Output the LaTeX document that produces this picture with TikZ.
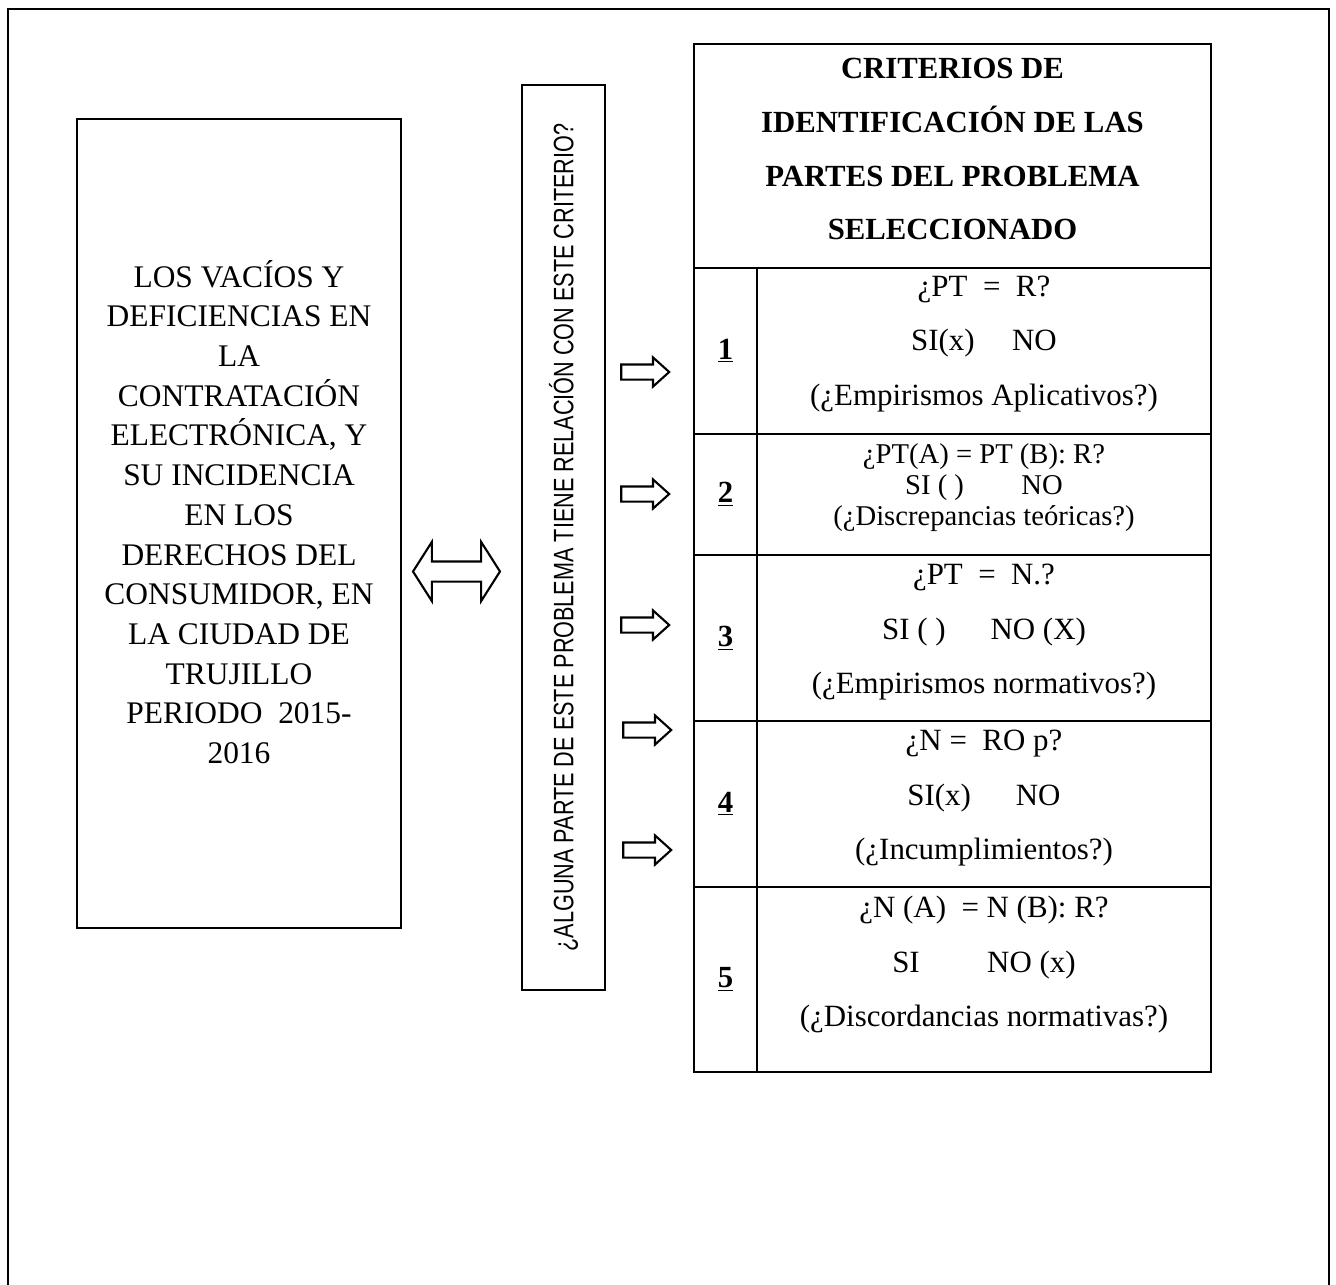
\documentclass[tikz,border=0pt]{standalone}
\usepackage{fontspec}
\setmainfont{Liberation Serif}
\newfontfamily\narrowsans[FakeStretch=0.77]{Liberation Sans}
\usetikzlibrary{positioning, shapes.arrows}

\begin{document}
\begin{tikzpicture}[x=0.02cm,y=-0.02cm,line width=1.2pt,
  box/.style={draw,rectangle,outer sep=0pt,inner sep=0pt},
  num cell/.style={box,minimum width=1.26cm,font=\fontsize{17.5}{21}\selectfont\bfseries},
  crit cell/.style={box,minimum width=9.08cm},
  crit text/.style={align=center,font=\fontsize{17.6}{31}\selectfont},
  head text/.style={align=center,font=\fontsize{17.5}{30.7}\selectfont\bfseries},
  block arrow/.style={single arrow,draw,line width=1.2pt,inner xsep=0pt,inner ysep=0.13cm,
    single arrow head extend=0.14cm,single arrow tip angle=84,minimum height=0.96cm}]
  \useasboundingbox (0,0) rectangle (1336,1285);
  % outer frame, its bottom edge is off the page
  \draw[line width=1.6pt] (8,1300) -- (8,9) -- (1329,9) -- (1329,1300);

  % problem
  \node[box,minimum width=6.48cm,minimum height=16.18cm] (prob) at (239,523.5) {};
  \node[align=center,font=\fontsize{17.9}{22.6}\selectfont] (probtext) at ([yshift=0.23cm]prob.center)
    {LOS VACÍOS Y\\DEFICIENCIAS EN\\LA\\CONTRATACIÓN\\ELECTRÓNICA, Y\\SU INCIDENCIA\\EN LOS\\
     DERECHOS DEL\\CONSUMIDOR, EN\\LA CIUDAD DE\\TRUJILLO\\PERIODO \ 2015-\\2016};
  \node[double arrow,draw,line width=1.2pt,inner xsep=0pt,inner ysep=0.18cm,
    double arrow head extend=0.39cm,double arrow tip angle=115,minimum height=1.74cm] (link) at (456.5,571.5) {};

  % question
  \node[box,minimum width=1.66cm,minimum height=18.1cm] (quest) at (563.5,537.5) {};
  \node[rotate=90,font=\narrowsans\fontsize{16}{19}\selectfont] (questtext) at (quest.center)
    {¿ALGUNA PARTE DE ESTE PROBLEMA TIENE RELACIÓN CON ESTE CRITERIO?};

  \node[block arrow] (arr1) at (641,372) {};
  \node[block arrow] (arr2) at (641,494) {};
  \node[block arrow] (arr3) at (641,625) {};
  \node[block arrow] (arr4) at (643,730) {};
  \node[block arrow] (arr5) at (643,850) {};

  % criteria table
  \node[box,minimum width=10.34cm,minimum height=4.48cm] (head) at (952.5,156) {};
  \node[head text] (headtext) at ([yshift=0.14cm]head.center)
    {CRITERIOS DE\\IDENTIFICACIÓN DE LAS\\PARTES DEL PROBLEMA\\SELECCIONADO};

  \node[num cell,minimum height=3.32cm,below right=0pt of head.south west] (n1) {\underline{1}};
  \node[num cell,minimum height=2.42cm,below=0pt of n1] (n2) {\underline{2}};
  \node[num cell,minimum height=3.32cm,below=0pt of n2] (n3) {\underline{3}};
  \node[num cell,minimum height=3.32cm,below=0pt of n3] (n4) {\underline{4}};
  \node[num cell,minimum height=3.70cm,below=0pt of n4] (n5) {\underline{5}};

  \node[crit cell,minimum height=3.32cm,right=0pt of n1] (c1) {};
  \node[crit cell,minimum height=2.42cm,right=0pt of n2] (c2) {};
  \node[crit cell,minimum height=3.32cm,right=0pt of n3] (c3) {};
  \node[crit cell,minimum height=3.32cm,right=0pt of n4] (c4) {};
  \node[crit cell,minimum height=3.70cm,right=0pt of n5] (c5) {};

  \node[crit text] (t1) at ([yshift=0.14cm]c1.center)
    {¿PT \ = \ R?\\SI(x)\hspace{0.75cm}NO\\(¿Empirismos Aplicativos?)};
  \node[crit text,font=\fontsize{16.3}{17.6}\selectfont] (t2) at ([yshift=0.14cm]c2.center)
    {¿PT(A) = PT (B): R?\\SI ( )\hspace{1.15cm}NO\\(¿Discrepancias teóricas?)};
  \node[crit text] (t3) at ([yshift=0.11cm]c3.center)
    {¿PT \ = \ N.?\\SI ( )\hspace{0.9cm}NO (X)\\(¿Empirismos normativos?)};
  \node[crit text] (t4) at ([yshift=0.11cm]c4.center)
    {¿N = \ RO p?\\SI(x)\hspace{0.9cm}NO\\(¿Incumplimientos?)};
  \node[crit text] (t5) at ([yshift=0.29cm]c5.center)
    {¿N (A) \ = N (B): R?\\SI\hspace{1.35cm}NO (x)\\(¿Discordancias normativas?)};
\end{tikzpicture}
\end{document}
